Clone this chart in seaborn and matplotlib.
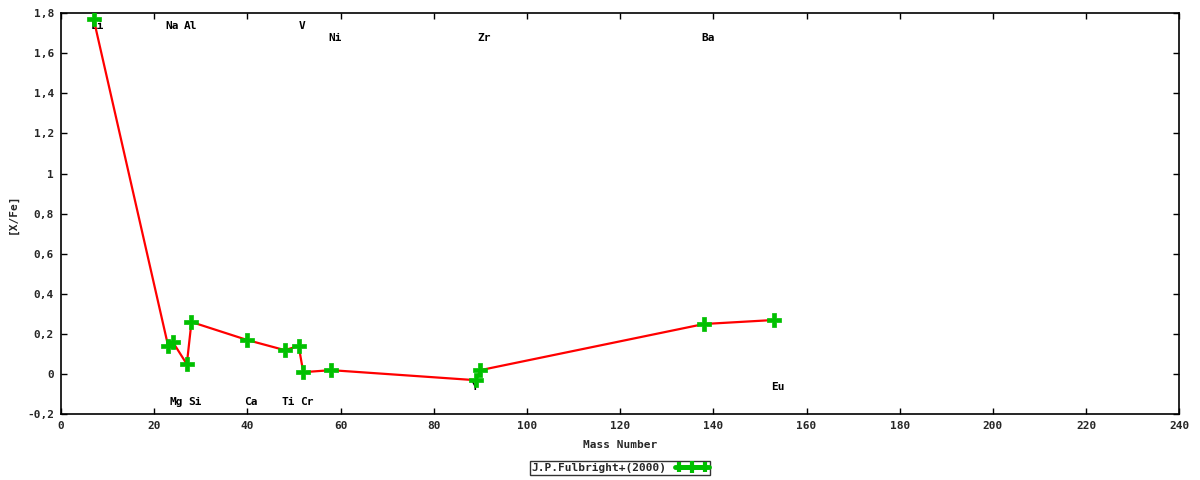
import matplotlib
matplotlib.use("Agg")
import matplotlib.pyplot as plt
import seaborn as sns
import pandas as pd
from matplotlib.lines import Line2D
from matplotlib.legend_handler import HandlerLine2D, HandlerTuple
from matplotlib.ticker import FuncFormatter, MultipleLocator

# ---- data ----
elements = ["Li", "Na", "Mg", "Al", "Si", "Ca", "Ti", "V", "Cr", "Ni", "Y", "Zr", "Ba", "Eu"]
mass = [7, 23, 24, 27, 28, 40, 48, 51, 52, 58, 89, 90, 138, 153]
xfe = [1.77, 0.14, 0.16, 0.05, 0.26, 0.17, 0.12, 0.14, 0.01, 0.02, -0.03, 0.02, 0.25, 0.27]
# label heights (data units) for the element names
label_y = [1.733, 1.733, -0.138, 1.733, -0.138, -0.138, -0.138, 1.733, -0.138, 1.675,
           -0.062, 1.675, 1.675, -0.066]
series_name = "J.P.Fulbright+(2000)"

df = pd.DataFrame({"mass": mass, "xfe": xfe})

sns.set_theme(style="white")
plt.rcParams["font.family"] = ["DejaVu Sans Mono", "DejaVu Sans"]
plt.rcParams["font.weight"] = "bold"

GREEN = "#00c000"
RED = "#ff0000"
FS = 8

fig = plt.figure(figsize=(12, 4.8), dpi=100)
ax = fig.add_axes([61 / 1200, 1 - 414.3 / 480, (1179.3 - 61) / 1200, (414.3 - 13) / 480])

sns.lineplot(data=df, x="mass", y="xfe", ax=ax, color=RED, linewidth=1.6, sort=False, zorder=3)
sns.scatterplot(data=df, x="mass", y="xfe", ax=ax, color=GREEN, marker="P", s=100,
                edgecolor=GREEN, linewidth=0.5, zorder=4)

for name, m, ly in zip(elements, mass, label_y):
    dx = 0.0 if name == "Y" else 0.8
    ax.text(m + dx, ly, name, ha="center", va="center", fontsize=FS, fontweight="bold",
            color="black", zorder=2)

ax.set_xlim(0, 240)
ax.set_ylim(-0.2, 1.8)
ax.xaxis.set_major_locator(MultipleLocator(20))
ax.yaxis.set_major_locator(MultipleLocator(0.2))


def comma_fmt(v, pos):
    v = round(v, 1)
    if abs(v - round(v)) < 1e-9:
        return "%d" % round(v)
    return ("%.1f" % v).replace(".", ",")


ax.yaxis.set_major_formatter(FuncFormatter(comma_fmt))
ax.xaxis.set_major_formatter(FuncFormatter(lambda v, p: "%d" % round(v)))

ax.tick_params(direction="in", length=4, width=1, color="black", top=True, right=True,
               bottom=True, left=True, labelsize=FS, pad=5)
for lab in ax.get_xticklabels() + ax.get_yticklabels():
    lab.set_fontweight("bold")
for sp in ax.spines.values():
    sp.set_color("black")
    sp.set_linewidth(1.2)

ax.set_xlabel("Mass Number", fontsize=FS, fontweight="bold", labelpad=6)
ax.set_ylabel("[X/Fe]", fontsize=FS, fontweight="bold", labelpad=7)

# legend sample resembling gnuplot yerrorlines key
caps = Line2D([], [], color=GREEN, linewidth=3.5, marker="|", markersize=7, markeredgewidth=3)
mid = Line2D([], [], color=GREEN, linewidth=3.5, marker="|", markersize=8, markeredgewidth=3)
leg = ax.legend([(caps, mid)], [series_name],
                handler_map={caps: HandlerLine2D(numpoints=2), mid: HandlerLine2D(numpoints=1),
                             tuple: HandlerTuple(ndivide=1)},
                loc="upper center", bbox_to_anchor=(0.5, -0.117), frameon=True, fancybox=False,
                shadow=False, markerfirst=False, fontsize=FS, borderpad=0.15, handlelength=3.0,
                handletextpad=0.8, borderaxespad=0)
leg.get_frame().set_edgecolor("black")
leg.get_frame().set_linewidth(1.0)
for t in leg.get_texts():
    t.set_fontweight("bold")

fig.savefig("out.png", dpi=100)
